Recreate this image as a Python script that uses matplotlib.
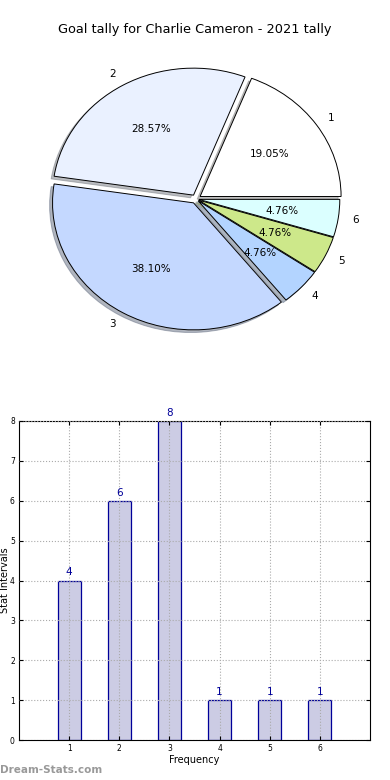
import matplotlib
matplotlib.use("Agg")
import matplotlib.pyplot as plt

# goal tally data (rounds 1-6)
labels = ["1", "2", "3", "4", "5", "6"]
goals = [4, 6, 8, 1, 1, 1]
slice_colors = ["#ffffff", "#eaf1ff", "#c4d8ff", "#b3d4ff", "#cde88a", "#dbffff"]
explode = [0.035, 0.035, 0.035, 0.02, 0.02, 0.02]
x_pos = [1, 2, 3, 4, 5, 6]
y_ticks = [0, 1, 2, 3, 4, 5, 6, 7, 8]

fig = plt.figure(figsize=(3.9, 7.8), dpi=100)

# pie on top - the old chart is slightly squashed, so no equal aspect
W, H = 390.0, 780.0
lim = 1.25
rx, ry = 141, 127
cx, cy = 196, 199
sw, sh = rx * 2 * lim, ry * 2 * lim
ax1 = fig.add_axes([(cx - sw / 2) / W, (H - cy - sh / 2) / H, sw / W, sh / H])
wedges, texts, autotexts = ax1.pie(
    goals, labels=labels, colors=slice_colors, explode=explode,
    autopct="%1.2f%%", shadow={"ox": -0.015, "oy": -0.015, "shade": 0.5},
    startangle=0, counterclock=True,
    wedgeprops={"edgecolor": "black", "linewidth": 0.7},
    textprops={"fontsize": 7.5})
ax1.set_xlim(-lim, lim)
ax1.set_ylim(-lim, lim)
ax1.set_aspect("auto")
fig.text(0.5, 1 - 30 / H, "Goal tally for Charlie Cameron - 2021 tally",
         ha="center", va="center", fontsize=9.3)

# bar chart below
ax2 = fig.add_axes([19 / W, (H - 740) / H, (370 - 19) / W, (740 - 421) / H])
bars = ax2.bar(x_pos, goals, width=0.46, color="#ccccE4", edgecolor="#000099",
               linewidth=0.9, zorder=2)
for xx, g in zip(x_pos, goals):
    ax2.text(xx, g + 0.08, str(g), ha="center", va="bottom", color="#000099", fontsize=7.5)
ax2.set_xlim(0, 7)
ax2.set_ylim(0, 8)
ax2.set_xticks(x_pos)
ax2.set_yticks(y_ticks)
ax2.tick_params(direction="in", labelsize=5.5, length=3, top=True, right=True, pad=3)
ax2.grid(True, linestyle=":", color="#aaaaaa", linewidth=0.8, zorder=3)
ax2.set_axisbelow(False)
ax2.set_xlabel("Frequency", fontsize=7, labelpad=1)
ax2.set_ylabel("Stat Intervals", fontsize=7, labelpad=0)

fig.text(0.0, 1 - 770 / H, "Dream-Stats.com", ha="left", va="center",
         fontsize=7.5, color="#999999", fontweight="bold")

fig.savefig("out.png", dpi=100)
